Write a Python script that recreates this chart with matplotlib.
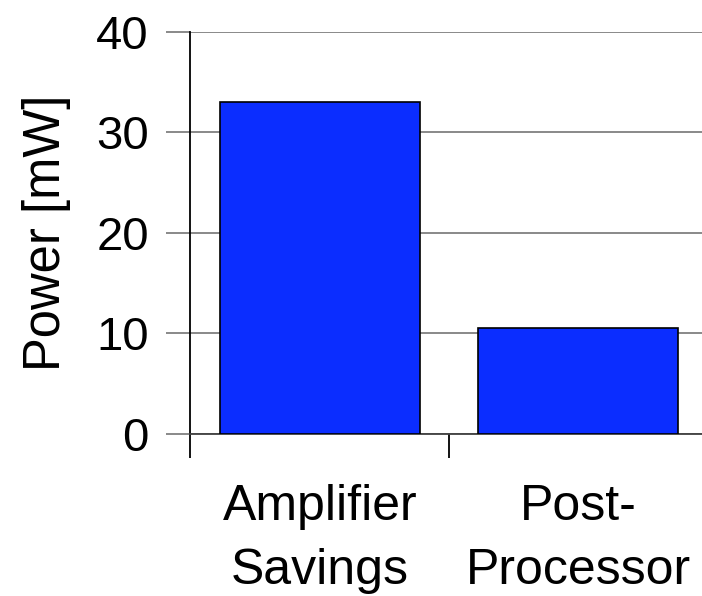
import matplotlib
matplotlib.use("Agg")
import matplotlib.pyplot as plt

categories = ["Amplifier\nSavings", "Post-\nProcessor"]
power_mw = [33.0, 10.5]
y_ticks = [0, 10, 20, 30, 40]

plt.rcParams["font.family"] = ["Liberation Sans", "DejaVu Sans"]

fig = plt.figure(figsize=(7.02, 5.96), dpi=100)
ax = fig.add_axes([190.5 / 702, 162.3 / 596, 517 / 702, 402 / 596])

x = list(range(len(categories)))
ax.bar(x, power_mw, width=0.773, color="#0b2dff", edgecolor="black",
       linewidth=1.2, zorder=3)

ax.set_xlim(-0.5, len(categories) - 0.5)
ax.set_ylim(0, 40)
ax.set_yticks(y_ticks)
ax.set_yticklabels([str(t) for t in y_ticks], fontsize=34)
ax.tick_params(axis="y", direction="out", length=17, width=1.3,
               color="#808080", pad=13)

# category boundaries carry the x ticks; labels sit at bar centres
ax.set_xticks([i - 0.5 for i in range(len(categories) + 1)])
ax.set_xticklabels([])
ax.tick_params(axis="x", which="major", direction="out", length=17,
               width=1.3, color="black")
ax.set_xticks(x, minor=True)
ax.set_xticklabels(categories, minor=True, fontsize=36, linespacing=1.52)
ax.tick_params(axis="x", which="minor", length=0, pad=36)

ax.yaxis.grid(True, color="#808080", linewidth=1.3, zorder=0)
ax.set_axisbelow(True)

for side in ("top", "right"):
    ax.spines[side].set_visible(False)
ax.spines["left"].set_color("black")
ax.spines["left"].set_linewidth(1.3)
ax.spines["bottom"].set_color("#404040")
ax.spines["bottom"].set_linewidth(1.3)

ax.set_ylabel("Power [mW]", fontsize=36.5, labelpad=18)

fig.savefig("out.png", dpi=100)
